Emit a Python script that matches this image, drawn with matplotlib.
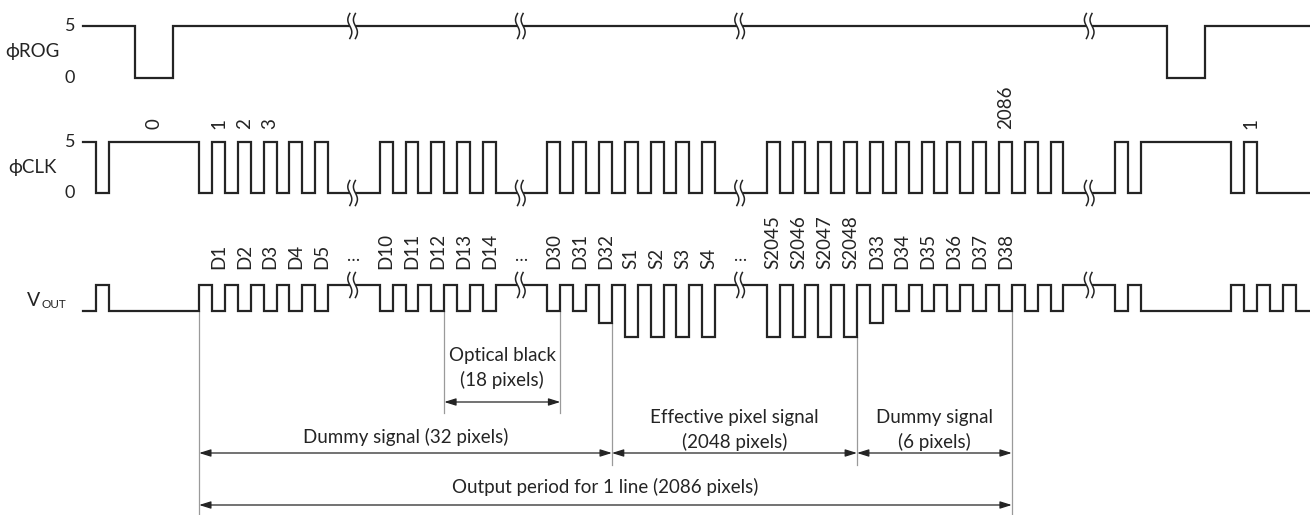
import numpy as np
import matplotlib.pyplot as plt

plt.rcParams['font.family'] = ['Lato', 'DejaVu Sans']

# time runs in half clock periods from the left end of the traces
ROG_EDGES = [0, 4, 7, 84, 87, 95]
ROG_LEVELS = [5, 0, 5, 0, 5]

CLK_HIGH = 5
CLK_LOW = 0
CLK_HEAD_EDGES = [0, 1, 2, 9, 10]
CLK_HEAD_LEVELS = [5, 0, 5, 0]
CLK_TAIL_EDGES = [76, 80, 81, 82, 89, 90, 91, 95]
CLK_TAIL_LEVELS = [0, 5, 0, 5, 0, 5, 0]
CLK_TEXT = ['0', '1', '2', '3', '2086', '1']
CLK_TEXT_T = [5.5, 10.5, 12.5, 14.5, 71.5, 90.5]

# pixel groups between the breaks: first slot, labels, output level
GROUP_START = [10, 23, 36, 53]
GROUP_LABELS = [
    ['D1', 'D2', 'D3', 'D4', 'D5'],
    ['D10', 'D11', 'D12', 'D13', 'D14'],
    ['D30', 'D31', 'D32', 'S1', 'S2', 'S3', 'S4'],
    ['S2045', 'S2046', 'S2047', 'S2048', 'D33', 'D34', 'D35', 'D36',
     'D37', 'D38', '', ''],
]
GROUP_VOUT = [
    [-1, -1, -1, -1, -1],
    [-1, -1, -1, -1, -1],
    [-1, -1, -1.45, -2, -2, -2, -2],
    [-2, -2, -2, -2, -1.45, -1, -1, -1, -1, -1, -1, -1],
]
VOUT_RESET = 0
VOUT_HEAD_EDGES = [0, 1, 2, 9, 10]
VOUT_HEAD_LEVELS = [-1, 0, -1, 0]
VOUT_TAIL_EDGES = [76, 80, 81, 82, 89, 90, 91, 92, 93, 94, 95]
VOUT_TAIL_LEVELS = [0, -1, 0, -1, 0, -1, 0, -1, 0, -1]

BREAKS = [20.9, 33.9, 50.9, 78.0]
ELLIPSIS_T = [20.9, 33.9, 50.9]

# guide lines: time, VOUT level where they start
GUIDE_T = [9, 28, 37, 41, 60, 72]
GUIDE_LEVEL = [-1, -1, -1, -1.45, -2, -1]

SPANS = [(28, 37), (9, 41), (41, 60), (60, 72), (9, 72)]
SPAN_TEXT = [['Optical black', '(18 pixels)'],
             ['Dummy signal (32 pixels)'],
             ['Effective pixel signal', '(2048 pixels)'],
             ['Dummy signal', '(6 pixels)'],
             ['Output period for 1 line (2086 pixels)']]

# layout (pixels)
W, H = 1310, 515
X0, HALF = 83, 12.9
INK = '#242424'


def rog_y(v):
    return 78 - v * 10.4


def clk_y(v):
    return 193 - v * 10.2


def vout_y(v):
    return 285 - v * 26


def build(head_e, head_l, tail_e, tail_l, pix_levels, off):
    e, l = list(head_e), list(head_l)
    for start, lev in zip(GROUP_START, pix_levels):
        for i, v in enumerate(lev):
            h = start + 2 * i
            if e[-1] != h:
                l.append(off)
                e.append(h)
            l.append(v)
            e.append(h + 1)
    e += tail_e[1:]
    l += tail_l
    return e, l


def level_at(e, l, t):
    i = np.searchsorted(e, t) - 1
    return l[max(0, min(i, len(l) - 1))]


def trace(ax, e, l, fy):
    xs = np.repeat(e, 2)[1:-1]
    ys = fy(np.repeat(np.array(l, dtype=float), 2))
    ax.plot(xs, ys, color=INK, lw=1.6, solid_joinstyle='miter', zorder=2)


def draw_break(ax, t, y):
    s = np.linspace(-1, 1, 40)
    curves = []
    for off in (-2.8, 2.8):
        xs = t + (off + 2.0 * np.sin(np.pi * s)) / HALF
        ys = y + 12.5 * s
        curves.append((xs, ys))
    px = np.concatenate([curves[0][0], curves[1][0][::-1]])
    py = np.concatenate([curves[0][1], curves[1][1][::-1]])
    ax.fill(px, py, color='white', lw=0, zorder=3)
    for xs, ys in curves:
        ax.plot(xs, ys, color=INK, lw=1.1, zorder=4)


fig = plt.figure(figsize=(W / 100, H / 100), dpi=100)
ax = fig.add_axes([0, 0, 1, 1])
ax.set_xlim(-X0 / HALF, (W - X0) / HALF)
ax.set_ylim(H, 0)
ax.axis('off')

clk_pix = [[CLK_HIGH] * len(g) for g in GROUP_LABELS]
clk_e, clk_l = build(CLK_HEAD_EDGES, CLK_HEAD_LEVELS, CLK_TAIL_EDGES,
                     CLK_TAIL_LEVELS, clk_pix, CLK_LOW)
vout_e, vout_l = build(VOUT_HEAD_EDGES, VOUT_HEAD_LEVELS, VOUT_TAIL_EDGES,
                       VOUT_TAIL_LEVELS, GROUP_VOUT, VOUT_RESET)

rows = [(ROG_EDGES, ROG_LEVELS, rog_y), (clk_e, clk_l, clk_y),
        (vout_e, vout_l, vout_y)]
for e, l, fy in rows:
    trace(ax, e, l, fy)
    for t in BREAKS:
        draw_break(ax, t, fy(level_at(e, l, t)))

# row names and level ticks
lx = -X0 / HALF
ax.text(lx + 32 / HALF, 52, '\u03d5ROG', fontsize=13.5, ha='center', va='center', color=INK)
ax.text(lx + 32 / HALF, 167, '\u03d5CLK', fontsize=13.5, ha='center', va='center', color=INK)
for fy in (rog_y, clk_y):
    for v in (5, 0):
        ax.text(lx + 75 / HALF, fy(v), str(v), fontsize=13, ha='right',
                va='center', color=INK)
ax.text(lx + 40 / HALF, 300, 'V', fontsize=14, ha='right', va='center', color=INK)
ax.text(lx + 41 / HALF, 305, 'OUT', fontsize=8.5, ha='left', va='center', color=INK)

# clock numbers
for s, t in zip(CLK_TEXT, CLK_TEXT_T):
    ax.text(t, 129, s, rotation=90, fontsize=13.5, ha='center', va='bottom', color=INK)

# pixel names
for start, labels in zip(GROUP_START, GROUP_LABELS):
    for i, s in enumerate(labels):
        if s:
            ax.text(start + 2 * i + 0.5, 269, s, rotation=90, fontsize=13.5,
                    ha='center', va='bottom', color=INK)
for t in ELLIPSIS_T:
    ax.text(t, 264, '\u2026', fontsize=12.5, ha='center', va='bottom', color=INK)

# guide lines
guide_bottom = [515, 413, 413, 465, 465, 515]
for t, v, yb in zip(GUIDE_T, GUIDE_LEVEL, guide_bottom):
    ax.plot([t, t], [vout_y(v), yb], color='#9a9a9a', lw=0.9, zorder=1)

# spans
span_y = [402, 453, 453, 453, 505]
text_y = [[356, 380], [437], [418, 442], [418, 442], [487]]
for (t0, t1), yy, lines, tys in zip(SPANS, span_y, SPAN_TEXT, text_y):
    ax.annotate('', xy=(t1, yy), xytext=(t0, yy),
                arrowprops=dict(arrowstyle='<|-|>,head_length=0.7,head_width=0.22',
                                color=INK, lw=0.9, shrinkA=0, shrinkB=0))
    for s, ty in zip(lines, tys):
        ax.text((t0 + t1) / 2, ty, s, fontsize=13.5, ha='center', va='center', color=INK)

fig.savefig('out.png', dpi=100, facecolor='white')
